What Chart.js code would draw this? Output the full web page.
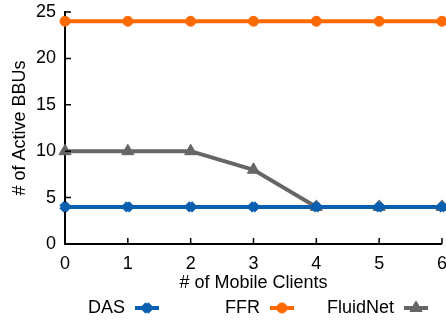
<!DOCTYPE html>
<html>
<head>
<meta charset="utf-8">
<script src="https://cdn.jsdelivr.net/npm/chart.js@4/dist/chart.umd.min.js"></script>
<style>
  html, body { margin: 0; padding: 0; background: #fff; }
  #wrap { width: 446px; height: 322px; position: relative; overflow: hidden; }
</style>
</head>
<body>
<div id="wrap"><canvas id="chart" width="456" height="322"></canvas></div>
<script>
const clients = [0, 1, 2, 3, 4, 5, 6]
const das = [4, 4, 4, 4, 4, 4, 4]
const ffr = [24, 24, 24, 24, 24, 24, 24]
const fluidnet = [10, 10, 10, 8, 4, 4, 4]
const yTicks = [0, 5, 10, 15, 20, 25]

const fontFam = "'Liberation Sans', Arial, Helvetica, sans-serif"

function pts(vals) {
    return vals.map((v, i) => ({ x: clients[i], y: v }))
}

// inward ticks on both axes
const innerTicks = {
    id: 'innerTicks',
    afterDraw(chart) {
        const ctx = chart.ctx
        const xs = chart.scales.x
        const ys = chart.scales.y
        ctx.save()
        ctx.strokeStyle = '#000'
        ctx.lineWidth = 1.5
        ctx.beginPath()
        clients.forEach(c => {
            const px = xs.getPixelForValue(c)
            ctx.moveTo(px, ys.bottom)
            ctx.lineTo(px, ys.bottom - 6)
        })
        yTicks.forEach(t => {
            const py = ys.getPixelForValue(t)
            ctx.moveTo(xs.left, py)
            ctx.lineTo(xs.left + 6, py)
        })
        ctx.stroke()
        ctx.restore()
    }
}

// legend: label first, then line + marker swatch
const sideLegend = {
    id: 'sideLegend',
    afterDraw(chart) {
        const ctx = chart.ctx
        const y = 308
        const starts = [88, 225, 327]
        ctx.save()
        ctx.font = '18px ' + fontFam
        ctx.textBaseline = 'middle'
        chart.data.datasets.forEach((ds, i) => {
            const x = starts[i]
            ctx.fillStyle = '#000'
            ctx.fillText(ds.label, x, y)
            const w = ctx.measureText(ds.label).width
            const sx = x + w + 10
            ctx.strokeStyle = ds.borderColor
            ctx.lineWidth = 4
            ctx.beginPath()
            ctx.moveTo(sx, y)
            ctx.lineTo(sx + 24, y)
            ctx.stroke()
            ctx.fillStyle = ds.pointBackgroundColor
            ctx.strokeStyle = ds.pointBorderColor
            ctx.lineWidth = ds.pointBorderWidth
            Chart.helpers.drawPoint(ctx, { pointStyle: ds.pointStyle, radius: ds.pointRadius, rotation: 0, borderWidth: ds.pointBorderWidth }, sx + 12, y)
        })
        ctx.restore()
    }
}

new Chart(document.getElementById('chart'), {
    type: 'line',
    data: {
        datasets: [{
            label: 'DAS',
            data: pts(das),
            borderColor: '#0a5fae',
            borderWidth: 4,
            pointStyle: 'crossRot',
            pointRadius: 5,
            pointBorderWidth: 6,
            pointBorderColor: '#0a5fae',
            pointBackgroundColor: '#0a5fae',
            clip: false
        }, {
            label: 'FFR',
            data: pts(ffr),
            borderColor: '#ff6a00',
            borderWidth: 4,
            pointStyle: 'circle',
            pointRadius: 5,
            pointBorderWidth: 1,
            pointBorderColor: '#ff6a00',
            pointBackgroundColor: '#ff6a00',
            clip: false
        }, {
            label: 'FluidNet',
            data: pts(fluidnet),
            borderColor: '#666666',
            borderWidth: 4,
            pointStyle: 'triangle',
            pointRadius: 7,
            pointBorderWidth: 1,
            pointBorderColor: '#666666',
            pointBackgroundColor: '#666666',
            clip: false
        }]
    },
    options: {
        responsive: false,
        animation: false,
        layout: { padding: { top: 12, right: 3, left: 0, bottom: 0 } },
        plugins: { legend: { display: false }, tooltip: { enabled: false } },
        scales: {
            x: {
                type: 'linear',
                min: 0,
                max: 6,
                afterFit: s => { s.height = 78 },
                afterBuildTicks: s => { s.ticks = clients.map(v => ({ value: v })) },
                grid: { display: false, drawTicks: false },
                border: { color: '#000', width: 2 },
                ticks: { color: '#000', padding: 9, font: { size: 18, family: fontFam } },
                title: { display: true, text: '# of Mobile Clients', color: '#000', padding: { top: 2, bottom: 28 }, font: { size: 18, family: fontFam } }
            },
            y: {
                min: 0,
                max: 25,
                afterFit: s => { s.width = 65; s.paddingTop = 0; s.paddingBottom = 0 },
                afterBuildTicks: s => { s.ticks = yTicks.map(v => ({ value: v })) },
                grid: { display: false, drawTicks: false },
                border: { color: '#000', width: 2 },
                ticks: { color: '#000', padding: 9, font: { size: 18, family: fontFam } },
                title: { display: true, text: '# of Active BBUs', color: '#000', padding: { top: 9 }, font: { size: 18, family: fontFam } }
            }
        }
    },
    plugins: [innerTicks, sideLegend]
})
</script>
</body>
</html>
